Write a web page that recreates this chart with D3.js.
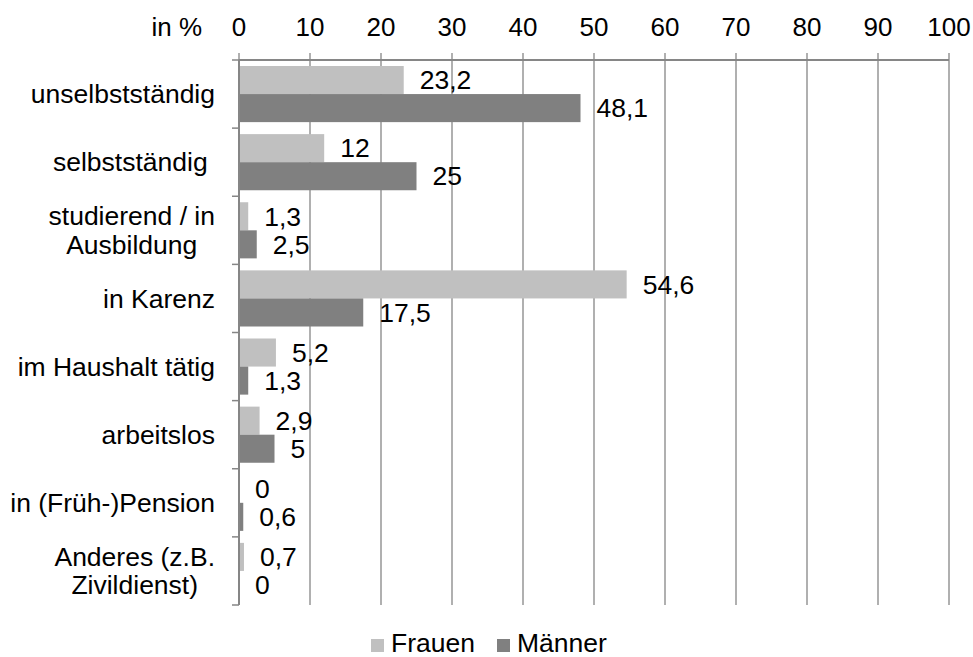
<!DOCTYPE html>
<html>
<head>
<meta charset="utf-8">
<script src="https://cdn.jsdelivr.net/npm/d3@7"></script>
<style>
  html, body { margin: 0; padding: 0; background: #fff; }
  svg { display: block; font-family: "Liberation Sans", Arial, sans-serif; }
</style>
</head>
<body>
<svg id="chart" width="973" height="657"></svg>
<script>
const categories = [
  ["unselbstständig"],
  ["selbstständig "],
  ["studierend / in", "Ausbildung"],
  ["in Karenz"],
  ["im Haushalt tätig"],
  ["arbeitslos"],
  ["in (Früh-)Pension"],
  ["Anderes (z.B.", "Zivildienst)"]
];
const seriesNames = ["Frauen", "Männer"];
const frauen = [23.2, 12, 1.3, 54.6, 5.2, 2.9, 0, 0.7];
const maenner = [48.1, 25, 2.5, 17.5, 1.3, 5, 0.6, 0];
const tickValues = [0, 10, 20, 30, 40, 50, 60, 70, 80, 90, 100];
const axisTitle = "in %";
const colors = ["#c0c0c0", "#808080"];

const fmt = v => String(v).replace(".", ",");
const catKeys = categories.map(c => c.join(" "));
const seriesValues = [frauen, maenner];

const svg = d3.select("#chart");
const fontSize = 26.5;
const tickFont = 26;
const gridColor = "#868686";

const x = d3.scaleLinear().domain([0, 100]).range([239, 949]);
const y = d3.scaleBand().domain(catKeys).range([60, 605]).padding(0);
const y1 = d3.scaleBand().domain(seriesNames).range([6, y.bandwidth() - 6]).padding(0);

// gridlines + top ticks
svg.append("g").selectAll("line.grid").data(tickValues).join("line")
  .attr("x1", d => x(d)).attr("x2", d => x(d))
  .attr("y1", 53).attr("y2", 605)
  .attr("stroke", gridColor).attr("stroke-width", 1.3);

// top axis line
svg.append("line").attr("x1", x(0)).attr("x2", x(100)).attr("y1", 60).attr("y2", 60)
  .attr("stroke", gridColor).attr("stroke-width", 2);

// tick labels
svg.append("g").selectAll("text").data(tickValues).join("text")
  .attr("x", d => x(d)).attr("y", 36)
  .attr("text-anchor", "middle")
  .attr("font-size", tickFont)
  .attr("fill", "#000")
  .text(d => d);

svg.append("text").attr("x", 202).attr("y", 36)
  .attr("text-anchor", "end").attr("font-size", tickFont).attr("fill", "#000")
  .text(axisTitle);

// bars
const rows = catKeys.map((k, i) => ({ key: k, vals: seriesNames.map((s, j) => ({ s, j, v: seriesValues[j][i] })) }));
const g = svg.append("g").selectAll("g").data(rows).join("g")
  .attr("transform", d => `translate(0,${y(d.key)})`);

g.selectAll("rect").data(d => d.vals).join("rect")
  .attr("x", x(0))
  .attr("y", d => y1(d.s))
  .attr("width", d => x(d.v) - x(0))
  .attr("height", y1.bandwidth())
  .attr("fill", d => colors[d.j]);

g.selectAll("text").data(d => d.vals).join("text")
  .attr("x", d => x(d.v) + 16)
  .attr("y", d => y1(d.s) + y1.bandwidth() / 2)
  .attr("dy", "0.35em")
  .attr("font-size", fontSize)
  .attr("fill", "#000")
  .text(d => fmt(d.v));

// left axis
svg.append("line").attr("x1", x(0)).attr("x2", x(0)).attr("y1", 60).attr("y2", 605)
  .attr("stroke", gridColor).attr("stroke-width", 2);
const bounds = catKeys.map(k => y(k)).concat([y.range()[1]]);
svg.append("g").selectAll("line").data(bounds).join("line")
  .attr("x1", 232).attr("x2", x(0)).attr("y1", d => d).attr("y2", d => d)
  .attr("stroke", gridColor).attr("stroke-width", 1.5);

// category labels
const lineH = 28.5;
categories.forEach((lines, i) => {
  const cy = y(catKeys[i]) + y.bandwidth() / 2;
  const gg = svg.append("g");
  const texts = lines.map((ln, li) => gg.append("text")
    .attr("font-size", fontSize).attr("fill", "#000")
    .style("white-space", "pre")
    .attr("y", cy + (li - (lines.length - 1) / 2) * lineH)
    .attr("dy", "0.35em")
    .text(ln));
  const widths = texts.map(t => t.node().getComputedTextLength());
  const maxW = d3.max(widths);
  texts.forEach(t => t.attr("text-anchor", "middle").attr("x", 215 - maxW / 2));
});

// legend
const leg = svg.append("g");
const legX = [371, 497];
seriesNames.forEach((s, j) => {
  leg.append("rect").attr("x", legX[j]).attr("y", 639).attr("width", 13).attr("height", 13).attr("fill", colors[j]);
  leg.append("text").attr("x", legX[j] + 20).attr("y", 652).attr("font-size", fontSize).attr("fill", "#000").text(s);
});
</script>
</body>
</html>
